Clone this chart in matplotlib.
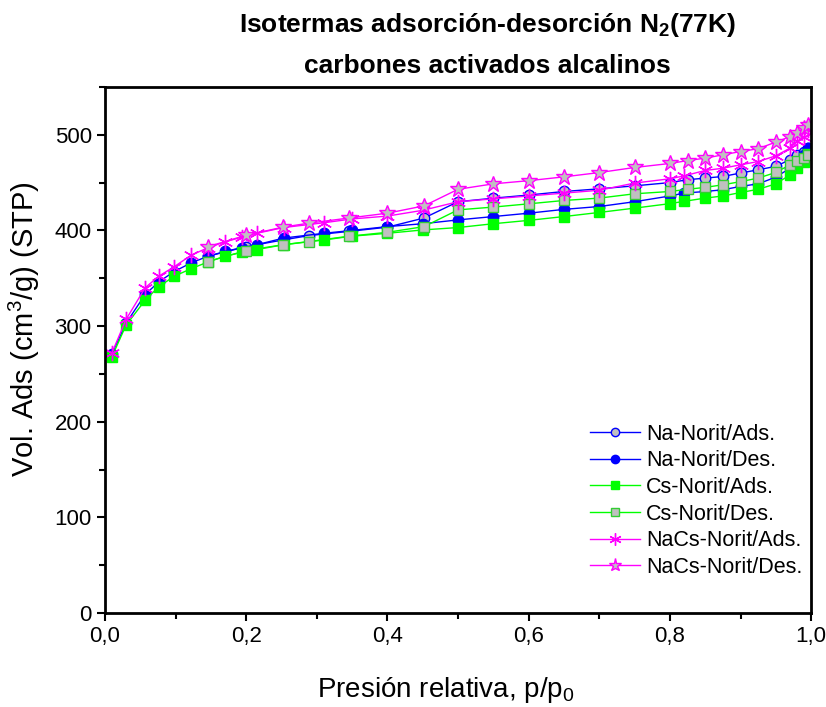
import matplotlib
matplotlib.use("Agg")
import matplotlib.pyplot as plt
from matplotlib.ticker import MultipleLocator

plt.rcParams['font.family'] = ['Liberation Sans Narrow', 'Liberation Sans', 'DejaVu Sans']
plt.rcParams['mathtext.default'] = 'regular'

# rama inferior (adsorción)
p_ads = [0.01, 0.03, 0.057, 0.076, 0.098, 0.122, 0.146, 0.17, 0.194, 0.215,
         0.253, 0.31, 0.35, 0.40, 0.45, 0.50, 0.55, 0.60, 0.65, 0.70, 0.75,
         0.80, 0.82, 0.85, 0.875, 0.90, 0.925, 0.95, 0.97, 0.98, 0.99, 0.995]
na_lower = [271, 303, 333, 346, 357, 366, 373, 378, 382, 385,
            392, 397, 400, 404, 407, 411, 414.5, 418, 422, 425, 430,
            436, 439, 440.7, 442.5, 446, 448.7, 455.7, 465, 470, 479, 486]
cs_lower = [268, 301, 327, 341, 352, 360, 367, 373, 377, 380,
            385, 390, 394, 397, 400.5, 403, 407, 410.5, 414.5, 418.8, 423.3,
            428, 430.4, 433.8, 436, 439.6, 443, 448.7, 458, 465, 471.5, 480]
nacs_lower = [272, 307, 340, 352, 362, 374, 382, 388, 393, 397,
              403, 408, 412, 415, 421, 430, 433, 436, 439, 442, 449.5,
              454, 457, 462.7, 465, 468.6, 472, 478, 486, 493, 498, 505]

# rama superior (desorción)
p_des = [0.146, 0.20, 0.252, 0.289, 0.346, 0.40, 0.452, 0.50, 0.55, 0.60,
         0.65, 0.70, 0.75, 0.80, 0.825, 0.85, 0.875, 0.90, 0.925, 0.95,
         0.97, 0.98, 0.99, 0.995]
na_upper = [373, 383, 390, 394.6, 399, 403.4, 413, 430, 433.7, 437,
            440.7, 443.5, 446.6, 450, 453, 454.7, 456.4, 460, 463.4, 467,
            474, 479, 482, 486]
cs_upper = [367.5, 379, 385, 388.4, 394, 398, 404, 421.5, 424.4, 427.8,
            431.3, 433.8, 438.3, 440.7, 443, 445, 447.7, 451, 454.7, 460.6,
            468.6, 473, 475.6, 479]
nacs_upper = [383, 395, 403.4, 407.6, 413, 418, 425.7, 443, 448.7, 452,
              456, 460.5, 465.8, 470, 473, 475.6, 479, 482.5, 485.4, 492.4,
              498, 502, 507, 510.5]

labels = ['Na-Norit/Ads.', 'Na-Norit/Des.', 'Cs-Norit/Ads.', 'Cs-Norit/Des.',
          'NaCs-Norit/Ads.', 'NaCs-Norit/Des.']
xticks = [0.0, 0.2, 0.4, 0.6, 0.8, 1.0]
xtick_labels = ['0,0', '0,2', '0,4', '0,6', '0,8', '1,0']
yticks = [0, 100, 200, 300, 400, 500]

fig = plt.figure(figsize=(8.26, 7.07), dpi=100)
ax = fig.add_axes([0.127, 0.133, 0.855, 0.744])

gris = '#c0c0c0'
ax.plot(p_des, na_upper, color='#0000ff', lw=1, marker='o', ms=7.5,
        mfc=gris, mec='#0000ff', mew=1, label=labels[0])
ax.plot(p_ads, na_lower, color='#0000ff', lw=1, marker='o', ms=7.5,
        mfc='#0000ff', mec='#0000ff', label=labels[1])
ax.plot(p_ads, cs_lower, color='#00ff00', lw=1, marker='s', ms=7.5,
        mfc='#00ff00', mec='#00ff00', label=labels[2])
ax.plot(p_des, cs_upper, color='#00ff00', lw=1, marker='s', ms=7.5,
        mfc=gris, mec='#33cc33', mew=1, label=labels[3])
ax.plot(p_ads, nacs_lower, color='#ff00ff', lw=1, marker=(6, 2, 0), ms=11,
        mec='#ff00ff', mew=1, label=labels[4])
ax.plot(p_des, nacs_upper, color='#ff00ff', lw=1, marker='*', ms=12,
        mfc=gris, mec='#ff00ff', mew=1, label=labels[5])

ax.set_xlim(0, 1.0)
ax.set_ylim(0, 550)
ax.set_xticks(xticks)
ax.set_xticklabels(xtick_labels)
ax.set_yticks(yticks)
ax.xaxis.set_minor_locator(MultipleLocator(0.1))
ax.yaxis.set_minor_locator(MultipleLocator(50))
ax.tick_params(which='both', direction='out', width=1.5, labelsize=16,
               top=False, right=False)
ax.tick_params(which='major', length=6)
ax.tick_params(which='minor', length=4)
for s in ax.spines.values():
    s.set_linewidth(2)

ax.set_xlabel('Presión relativa, p/p$_0$', fontsize=20,
              family=['Liberation Sans', 'DejaVu Sans'])
ax.set_ylabel('Vol. Ads (cm$^3$/g) (STP)', fontsize=21,
              family=['Liberation Sans', 'DejaVu Sans'])
ax.xaxis.set_label_coords(0.483, -0.118)
ax.yaxis.set_label_coords(-0.089, 0.54)

fig.text(0.59, 0.965, 'Isotermas adsorción-desorción N$_2$(77K)', ha='center',
         va='center', fontsize=19, fontweight='bold')
fig.text(0.59, 0.906, 'carbones activados alcalinos', ha='center',
         va='center', fontsize=19, fontweight='bold')

ax.legend(loc='lower right', bbox_to_anchor=(1.015, 0.03), frameon=False,
          numpoints=1, handlelength=2.3, handletextpad=0.3, labelspacing=0.26,
          markerscale=0.8,
          prop={'family': ['Liberation Sans', 'DejaVu Sans'], 'size': 15.5})

fig.savefig('out.png', dpi=100)
